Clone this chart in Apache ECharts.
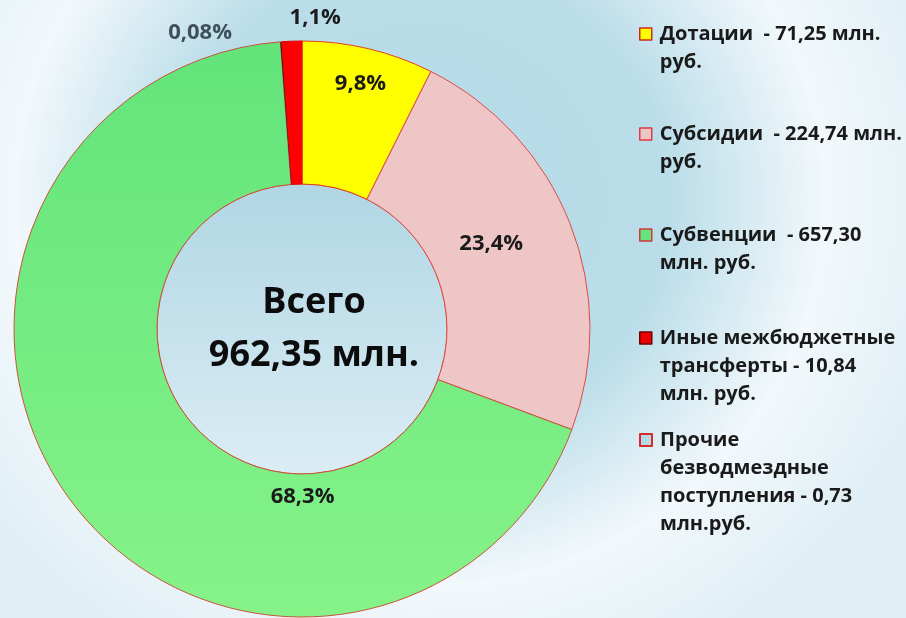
<!DOCTYPE html>
<html>
<head>
<meta charset="utf-8">
<script src="https://cdn.jsdelivr.net/npm/echarts@6/dist/echarts.min.js"></script>
<style>
  html, body { margin: 0; padding: 0; }
  #main {
    width: 906px; height: 618px;
    background: radial-gradient(450px 430px at 420px 200px, #b4d9e6 0%, #badde9 55%, #f2f8fb 90%, #e0eff5 120%);
  }
</style>
</head>
<body>
<div id="main"></div>
<script>
// pie order, clockwise from 12 o'clock
const categories = ['Дотации', 'Субсидии', 'Субвенции', 'Прочие', 'Иные']
const values = [71.25, 224.74, 657.30, 0.73, 10.84]
const percentLabels = ['9,8%', '23,4%', '68,3%', '0,08%', '1,1%']
const totalText = 'Всего\n962,35 млн.'

// legend order and texts
const legendOrder = ['Дотации', 'Субсидии', 'Субвенции', 'Иные', 'Прочие']
const legendTexts = {
  'Дотации': ['Дотации  - 71,25 млн.', 'руб.'],
  'Субсидии': ['Субсидии  - 224,74 млн.', 'руб.'],
  'Субвенции': ['Субвенции  - 657,30', 'млн. руб.'],
  'Иные': ['Иные межбюджетные', 'трансферты - 10,84', 'млн. руб.'],
  'Прочие': ['Прочие', 'безводмездные', 'поступления - 0,73', 'млн.руб.'],
}

const sliceStyles = {
  'Дотации': { color: '#ffff00', borderColor: '#e0421c', borderWidth: 1 },
  'Субсидии': { color: '#eec6c6', borderColor: '#e04848', borderWidth: 1 },
  'Субвенции': {
    color: new echarts.graphic.LinearGradient(0, 0, 0, 1, [
      { offset: 0, color: '#62e47b' }, { offset: 1, color: '#86f389' }]),
    borderColor: '#c8523c', borderWidth: 1,
  },
  'Прочие': { color: '#1e1e1e', borderWidth: 0 },
  'Иные': { color: '#ff0000', borderColor: '#e00000', borderWidth: 1 },
}
const iconStyles = {
  'Дотации': { color: '#ffff00', borderColor: '#d02a1a', borderWidth: 1.5 },
  'Субсидии': { color: '#eec6c6', borderColor: '#e03a4a', borderWidth: 1.5 },
  'Субвенции': { color: '#66e47e', borderColor: '#d03a3a', borderWidth: 1.5 },
  'Иные': { color: '#ee0000', borderColor: '#700000', borderWidth: 1.5 },
  'Прочие': { color: '#b7dbe6', borderColor: '#d82a2a', borderWidth: 2 },
}
// label nudges from the library's default spot
const labelShift = {
  'Дотации': [8, -32],
  'Субсидии': [-15, -5],
  'Субвенции': [176, 36],
  'Прочие': [-44, -9],
  'Иные': [54, -23],
}
const firstLineY = { 'Дотации': 34, 'Субсидии': 134, 'Субвенции': 235, 'Иные': 338, 'Прочие': 440 }

const center = [302, 329]
const lineH = 28
const font = '"Open Sans", "Noto Sans", sans-serif'

const chart = echarts.init(document.getElementById('main'))

const legends = legendOrder.map(name => {
  const lines = legendTexts[name]
  const n = lines.length
  return {
    left: 639,
    top: firstLineY[name] - (2 * n - 1) * lineH / 2,
    padding: 0,
    orient: 'vertical',
    icon: 'rect',
    itemWidth: 12,
    itemHeight: 12,
    selectedMode: false,
    data: [{ name: name, itemStyle: iconStyles[name] }],
    // blank lines on top keep the icon level with the first line
    formatter: () => new Array(n - 1).fill('').concat(lines).join('\n'),
    textStyle: {
      fontFamily: font, fontSize: 20, fontWeight: 'bold', color: '#1a1a1a',
      lineHeight: lineH, padding: [0, 0, 0, 3],
    },
  }
})

const option = {
  animation: false,
  legend: legends,
  series: [
    {
      type: 'pie',
      center: center,
      radius: [0, 145],
      silent: true,
      z: 1,
      label: {
        show: true, position: 'center', formatter: totalText,
        fontFamily: font, fontSize: 36, fontWeight: 'bold', color: '#0c0c0c',
        lineHeight: 53, padding: [0, 0, 18, 24],
      },
      labelLine: { show: false },
      itemStyle: {
        color: new echarts.graphic.LinearGradient(0, 0, 0, 1, [
          { offset: 0, color: '#b0d6e4' }, { offset: 1, color: '#dbedf4' }]),
        borderColor: '#d8503e', borderWidth: 1,
      },
      data: [{ value: 1, name: '' }],
    },
    {
      type: 'pie',
      center: center,
      radius: [145, 288],
      startAngle: 90,
      clockwise: true,
      avoidLabelOverlap: false,
      silent: true,
      z: 2,
      label: {
        show: true,
        position: 'inside',
        fontFamily: font, fontSize: 22, fontWeight: 'bold', color: '#1b1b1b',
        formatter: p => percentLabels[p.dataIndex],
      },
      labelLine: { show: false, length: 0, length2: 0 },
      labelLayout: p => {
        const s = labelShift[categories[p.dataIndex]]
        return { dx: s[0], dy: s[1] }
      },
      data: categories.map((name, i) => {
        const item = { name: name, value: values[i], itemStyle: sliceStyles[name] }
        if (name === 'Прочие' || name === 'Иные') {
          item.label = { position: 'outside', color: name === 'Прочие' ? '#3f505c' : '#1b1b1b' }
        }
        return item
      }),
    },
  ],
}

chart.setOption(option)
</script>
</body>
</html>
